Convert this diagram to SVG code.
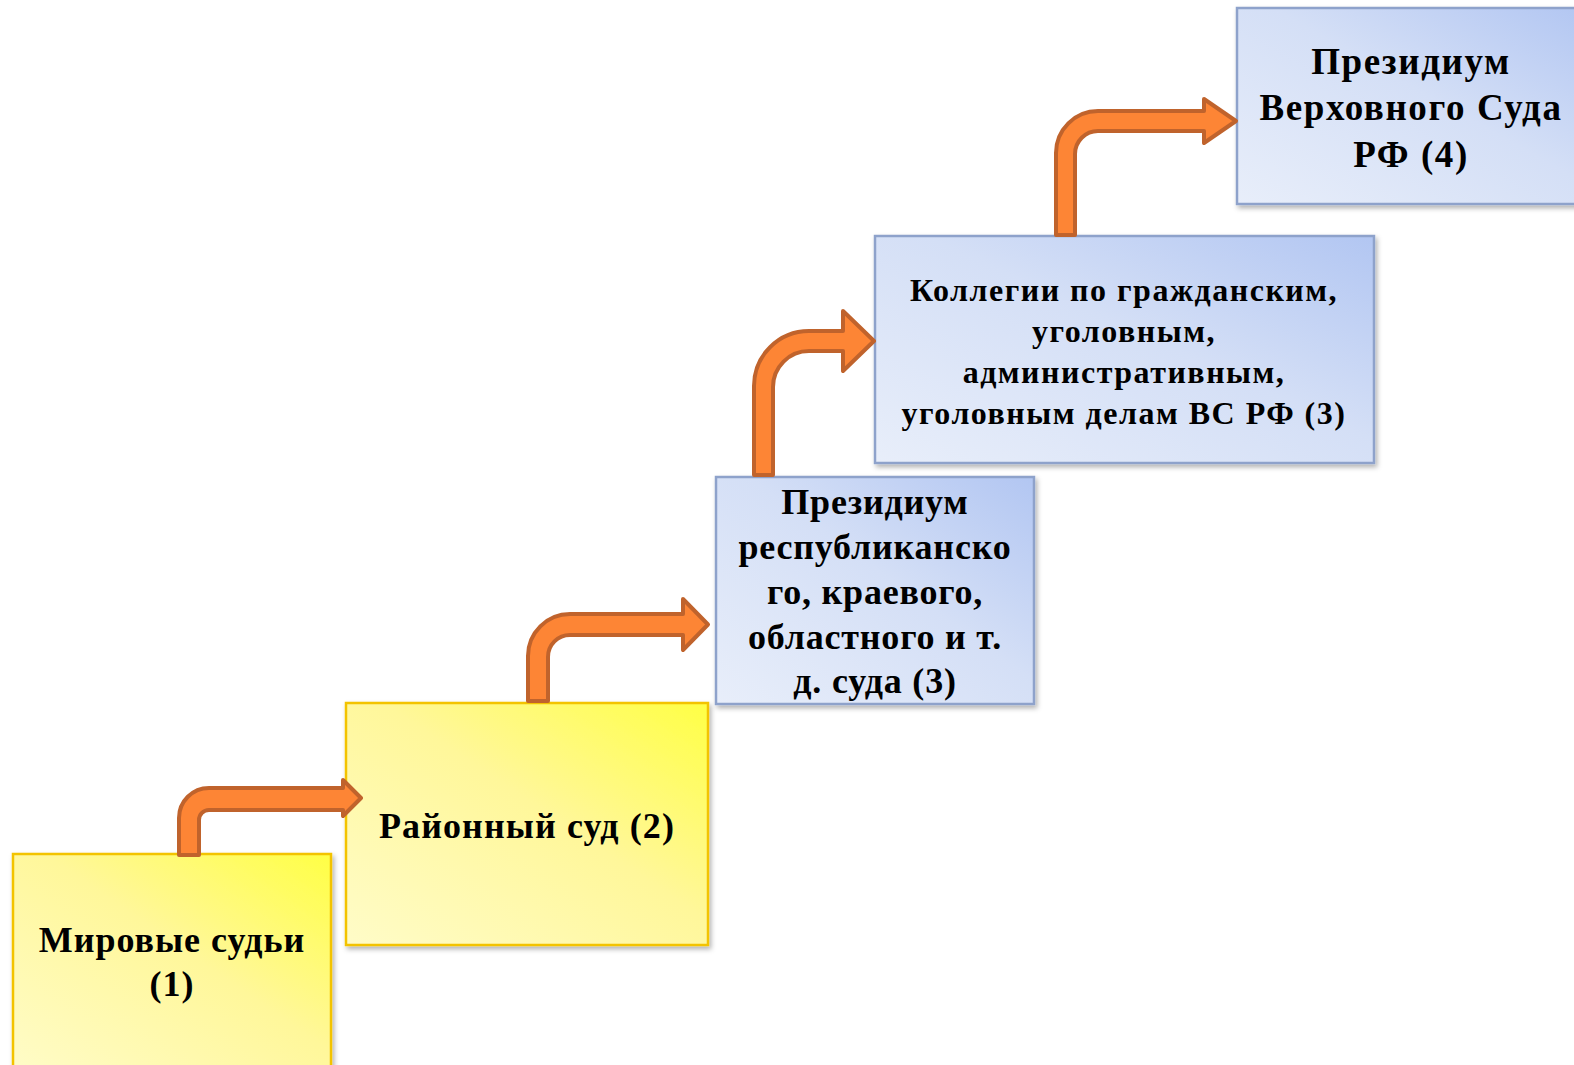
<svg xmlns="http://www.w3.org/2000/svg" width="1574" height="1065" viewBox="0 0 1574 1065">
<defs>
<linearGradient id="gy" x1="0" y1="1" x2="1" y2="0">
<stop offset="0" stop-color="#fffcc8"/>
<stop offset="0.55" stop-color="#fff79a"/>
<stop offset="1" stop-color="#ffff45"/>
</linearGradient>
<linearGradient id="gb" x1="0" y1="1" x2="1" y2="0">
<stop offset="0" stop-color="#e8eefa"/>
<stop offset="0.55" stop-color="#d4dff6"/>
<stop offset="1" stop-color="#b2c6f2"/>
</linearGradient>
<filter id="sh" x="-10%" y="-10%" width="120%" height="120%">
<feDropShadow dx="2" dy="3" stdDeviation="2.5" flood-color="#000" flood-opacity="0.3"/>
</filter>
</defs>
<style>
.y{fill:url(#gy);stroke:#f3c300;stroke-width:2.5;filter:url(#sh)}
.b{fill:url(#gb);stroke:#8ea2cb;stroke-width:2.5;filter:url(#sh)}
.t{font-family:"Liberation Serif","Times New Roman",serif;font-weight:bold;fill:#000;text-anchor:middle}
.a{fill:#fd8535;stroke:#c0632c;stroke-width:4;stroke-linejoin:round}
</style>
<rect width="1574" height="1065" fill="#fff"/>
<g id="n1">
<rect class="y" x="13" y="854" width="318" height="220"/>
<text class="t" font-size="36" letter-spacing="1"><tspan x="172" y="952">Мировые судьи</tspan><tspan x="172" y="996">(1)</tspan></text>
</g>
<g id="n2">
<rect class="y" x="346" y="703" width="362" height="242"/>
<text class="t" x="527" y="838" font-size="36" letter-spacing="1.1">Районный суд (2)</text>
</g>
<g id="n3">
<rect class="b" x="716" y="477" width="318" height="227"/>
<text class="t" font-size="36" letter-spacing="0.8"><tspan x="875" y="514">Президиум</tspan><tspan x="875" y="559">республиканско</tspan><tspan x="875" y="604">го, краевого,</tspan><tspan x="875" y="649">областного и т.</tspan><tspan x="875" y="693">д. суда (3)</tspan></text>
</g>
<g id="n4">
<rect class="b" x="875" y="236" width="499" height="227"/>
<text class="t" font-size="32" letter-spacing="1.5"><tspan x="1124" y="301">Коллегии по гражданским,</tspan><tspan x="1124" y="342">уголовным,</tspan><tspan x="1124" y="383">административным,</tspan><tspan x="1124" y="424">уголовным делам ВС РФ (3)</tspan></text>
</g>
<g id="n5">
<rect class="b" x="1237" y="8" width="350" height="196"/>
<text class="t" font-size="37" letter-spacing="1.6"><tspan x="1411" y="74">Президиум</tspan><tspan x="1411" y="120">Верховного Суда</tspan><tspan x="1411" y="167">РФ (4)</tspan></text>
</g>
<g id="connectors">
<path class="a" d="M179,855 L179,818 A30,30 0 0 1 209,788 L343,788 L343,780 L361,798 L343,816 L343,810 L209,810 A10,10 0 0 0 199,820 L199,855 Z"/>
<path class="a" d="M528,701 L528,656 A42,42 0 0 1 570,614 L683,614 L683,599 L708,624.5 L683,650 L683,635 L570,635 A22,22 0 0 0 548,657 L548,701 Z"/>
<path class="a" d="M754,475 L754,386 A55,55 0 0 1 809,331 L843,331 L843,311 L874,341 L843,371 L843,351 L809,351 A36,36 0 0 0 773,387 L773,475 Z"/>
<path class="a" d="M1056,235 L1056,153 A42,42 0 0 1 1098,111 L1204,111 L1204,99 L1236,121 L1204,143 L1204,131 L1098,131 A23,23 0 0 0 1075,154 L1075,235 Z"/>
</g>
</svg>
